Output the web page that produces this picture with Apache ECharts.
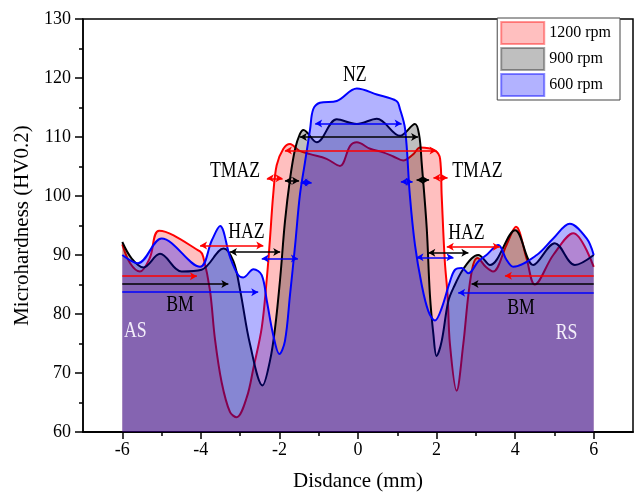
<!DOCTYPE html>
<html>
<head>
<meta charset="UTF-8">
<title>Microhardness profile</title>
<script src="https://cdn.jsdelivr.net/npm/echarts@6/dist/echarts.min.js"></script>
</head>
<body style="margin: 0">
<div id="container" style="width: 637px; height: 497px"></div>
<script type="text/javascript">
// distance (mm) and hardness (HV0.2)
var x1200 = [-6, -5.8, -5.55, -5.3, -5.06, -4.02, -3.94, -3.77, -3.64, -3.47, -3.26, -3.09, -2.83, -2.66, -2.45, -2.32, -2.24, -2.16, -2.07, -1.9, -1.73, -1.5, -1.22, -0.8, -0.46, -0.2, -0.03, 0.31, 0.64, 0.9, 1.15, 1.41, 1.58, 1.96, 2.09, 2.13, 2.21, 2.28, 2.34, 2.51, 2.68, 2.81, 2.93, 3.04, 3.25, 3.44, 3.78, 4.02, 4.29, 4.5, 4.97, 5.48, 6.0];
var hv1200 = [91.8, 88.6, 87.2, 89.5, 94.1, 90.6, 89.7, 84.1, 75.7, 68.4, 63.4, 62.5, 65.9, 70.9, 77.7, 86.1, 92.8, 100.1, 105.2, 108.0, 108.8, 107.7, 107.1, 106.3, 105.1, 108.5, 109.1, 108.0, 107.4, 106.7, 106.0, 107.1, 108.2, 107.7, 106.3, 100.1, 88.9, 83.3, 74.9, 67.0, 74.9, 83.3, 88.3, 89.5, 88.0, 87.2, 91.7, 94.8, 89.4, 85.0, 90.0, 93.7, 88.0];

var x900 = [-6, -5.76, -5.46, -5.04, -4.49, -3.98, -3.42, -3.17, -3.0, -2.75, -2.43, -2.24, -2.11, -1.98, -1.86, -1.73, -1.6, -1.48, -1.39, -1.05, -0.54, -0.03, 0.48, 1.07, 1.45, 1.56, 1.62, 1.75, 1.83, 1.92, 2.0, 2.13, 2.3, 2.47, 2.64, 2.89, 3.06, 3.36, 4.0, 4.46, 5.01, 5.52, 6.0];
var hv900 = [92.2, 89.4, 87.9, 90.2, 87.2, 87.5, 91.1, 88.9, 84.0, 74.9, 67.9, 72.1, 77.7, 86.1, 95.6, 102.9, 108.0, 110.5, 111.2, 109.1, 113.0, 112.2, 113.1, 110.2, 112.2, 110.2, 105.7, 94.5, 83.3, 76.5, 72.9, 75.4, 82.2, 85.0, 87.2, 89.4, 90.0, 88.3, 94.2, 88.3, 92.0, 88.3, 90.0];

var x600 = [-6, -5.6, -5.0, -4.02, -3.72, -3.51, -3.26, -3.05, -2.92, -2.66, -2.45, -2.32, -2.16, -2.0, -1.86, -1.73, -1.6, -1.48, -1.35, -1.22, -1.14, -0.97, -0.54, -0.03, 0.48, 0.98, 1.07, 1.2, 1.32, 1.45, 1.62, 1.79, 1.96, 2.13, 2.34, 2.47, 2.64, 2.81, 3.06, 3.27, 3.57, 3.78, 3.95, 4.55, 4.97, 5.39, 5.82, 6.0];
var hv600 = [90.0, 88.6, 92.8, 88.0, 92.5, 94.9, 89.7, 86.6, 86.2, 87.6, 86.6, 82.2, 76.5, 73.2, 75.4, 83.3, 91.7, 100.1, 105.7, 111.3, 114.7, 115.8, 116.1, 118.2, 117.2, 116.1, 114.7, 111.3, 100.1, 91.7, 85.0, 80.5, 78.9, 81.0, 85.5, 87.5, 87.8, 86.9, 88.9, 90.0, 91.7, 89.2, 88.0, 90.0, 92.8, 95.3, 92.8, 90.0];

// zone arrows: [from x, to x, at hardness, heads]
var arrows1200 = [[-6, -4.1, 86.4, 'end'], [-4.02, -2.41, 91.6, 'both'], [-2.32, -1.92, 103.0, 'both'], [-1.86, 2.0, 107.7, 'both'], [1.92, 2.28, 103.1, 'both'], [2.26, 3.61, 91.4, 'both'], [6, 3.74, 86.5, 'end']];
var arrows900 = [[-6, -3.3, 85.1, 'end'], [-3.26, -1.98, 90.5, 'both'], [-1.86, -1.5, 102.6, 'both'], [-1.48, 1.53, 110.0, 'both'], [1.49, 1.81, 102.7, 'both'], [1.79, 2.81, 90.4, 'both'], [6, 2.89, 85.1, 'end']];
var arrows600 = [[-6, -2.54, 83.7, 'end'], [-2.45, -1.53, 89.4, 'both'], [-1.46, -1.18, 102.3, 'both'], [-1.09, 1.11, 112.3, 'both'], [1.09, 1.39, 102.4, 'both'], [1.49, 2.43, 89.6, 'both'], [6, 2.55, 83.6, 'end']];

// zone names: [text, x, hardness, colour]
var notes = [['NZ', -0.08, 120.6, '#000'], ['TMAZ', -3.13, 104.3, '#000'], ['TMAZ', 3.04, 104.3, '#000'],
  ['HAZ', -2.84, 93.9, '#000'], ['HAZ', 2.76, 93.7, '#000'], ['BM', -4.53, 81.6, '#000'], ['BM', 4.15, 81.0, '#000'],
  ['AS', -5.67, 77.2, '#f4eefa'], ['RS', 5.31, 76.8, '#f4eefa']];

var majorX = [-6, -4, -2, 0, 2, 4, 6];
var minorX = [-5, -3, -1, 1, 3, 5];

function pairs(xs, ys) {
  var out = [];
  for (var i = 0; i < xs.length; i++) out.push([xs[i], ys[i]]);
  return out;
}

function arrowLines(list) {
  return list.map(function (a) {
    return [{ coord: [a[0], a[2]], symbol: a[3] == 'both' ? 'arrow' : 'none' },
            { coord: [a[1], a[2]], symbol: 'arrow' }];
  });
}

// each series gets its own z so its line sits under the next series' fill
function curve(name, xs, ys, color, fill, arrows, z) {
  return {
    name: name,
    type: 'line',
    z: z,
    data: pairs(xs, ys),
    smooth: 0.35,
    symbol: 'none',
    lineStyle: { color: color, width: 2 },
    itemStyle: { color: color },
    areaStyle: { color: fill, origin: 'start', opacity: 1 },
    emphasis: { disabled: true },
    markLine: {
      silent: true,
      z: 10,
      symbolSize: [6, 7],
      label: { show: false },
      emphasis: { disabled: true },
      lineStyle: { color: color, width: 1.5, type: 'solid' },
      data: arrowLines(arrows)
    }
  };
}

var dom = document.getElementById('container');
var myChart = echarts.init(dom);
var font = 'Liberation Serif';

var option = {
  animation: false,
  textStyle: { fontFamily: font },
  grid: { left: 83, right: 4, top: 19, bottom: 62, show: true, borderColor: '#000', borderWidth: 1.5 },
  legend: {
    orient: 'vertical',
    right: 17,
    top: 18,
    itemWidth: 43,
    itemHeight: 22,
    itemGap: 2,
    padding: [3, 9, 3, 3],
    borderColor: '#444',
    borderWidth: 1,
    backgroundColor: '#fff',
    selectedMode: false,
    textStyle: { fontFamily: font, fontSize: 16, color: '#000' },
    data: [
      { name: '1200 rpm', icon: 'rect', itemStyle: { color: 'rgba(255,0,0,0.25)', borderColor: 'rgba(255,0,0,0.4)', borderWidth: 2 } },
      { name: '900 rpm', icon: 'rect', itemStyle: { color: 'rgba(0,0,0,0.25)', borderColor: 'rgba(0,0,0,0.35)', borderWidth: 2 } },
      { name: '600 rpm', icon: 'rect', itemStyle: { color: 'rgba(0,0,255,0.3)', borderColor: 'rgba(0,0,255,0.45)', borderWidth: 2 } }
    ]
  },
  xAxis: [{
    type: 'value',
    min: -7,
    max: 7,
    interval: 1,
    name: 'Disdance (mm)',
    nameLocation: 'middle',
    nameGap: 39,
    nameTextStyle: { fontFamily: font, fontSize: 21, color: '#000' },
    axisLine: { onZero: false, lineStyle: { color: '#000', width: 1.5 } },
    axisTick: { customValues: majorX, length: 7, lineStyle: { color: '#000', width: 1.5 } },
    axisLabel: { customValues: majorX, margin: 9, fontFamily: font, fontSize: 18, color: '#000' },
    splitLine: { show: false }
  }, {
    type: 'value',
    position: 'bottom',
    min: -7,
    max: 7,
    interval: 1,
    axisLine: { show: true, onZero: false, lineStyle: { color: '#000', width: 1.5 } },
    axisTick: { show: true, customValues: minorX, length: 4, lineStyle: { color: '#000', width: 1.5 } },
    axisLabel: { show: false },
    splitLine: { show: false }
  }],
  yAxis: {
    type: 'value',
    min: 60,
    max: 130,
    interval: 10,
    name: 'Microhardness (HV0.2)',
    nameLocation: 'middle',
    nameGap: 47,
    nameTextStyle: { fontFamily: font, fontSize: 21, color: '#000' },
    axisLine: { show: true, onZero: false, lineStyle: { color: '#000', width: 1.5 } },
    axisTick: { show: true, length: 8, lineStyle: { color: '#000', width: 1.5 } },
    minorTick: { show: true, splitNumber: 2, length: 4, lineStyle: { color: '#000', width: 1.5 } },
    axisLabel: { margin: 12, fontFamily: font, fontSize: 18, color: '#000' },
    splitLine: { show: false }
  },
  series: [
    curve('1200 rpm', x1200, hv1200, '#ff0000', 'rgba(255,0,0,0.25)', arrows1200, 2),
    curve('900 rpm', x900, hv900, '#000000', 'rgba(0,0,0,0.25)', arrows900, 3),
    curve('600 rpm', x600, hv600, '#0000ff', 'rgba(0,0,255,0.3)', arrows600, 4)
  ]
};
myChart.setOption(option);

// zone names, placed at data coordinates, set in a narrow face like the original
var texts = notes.map(function (n) {
  var p = myChart.convertToPixel({ xAxisIndex: 0, yAxisIndex: 0 }, [n[1], n[2]]);
  return {
    type: 'text', x: p[0], y: p[1], scaleX: 0.74, silent: true, z: 20,
    style: { text: n[0], fill: n[3], font: '24px "' + font + '"', align: 'center', verticalAlign: 'middle' }
  };
});
myChart.setOption({ graphic: texts });
</script>
</body>
</html>
